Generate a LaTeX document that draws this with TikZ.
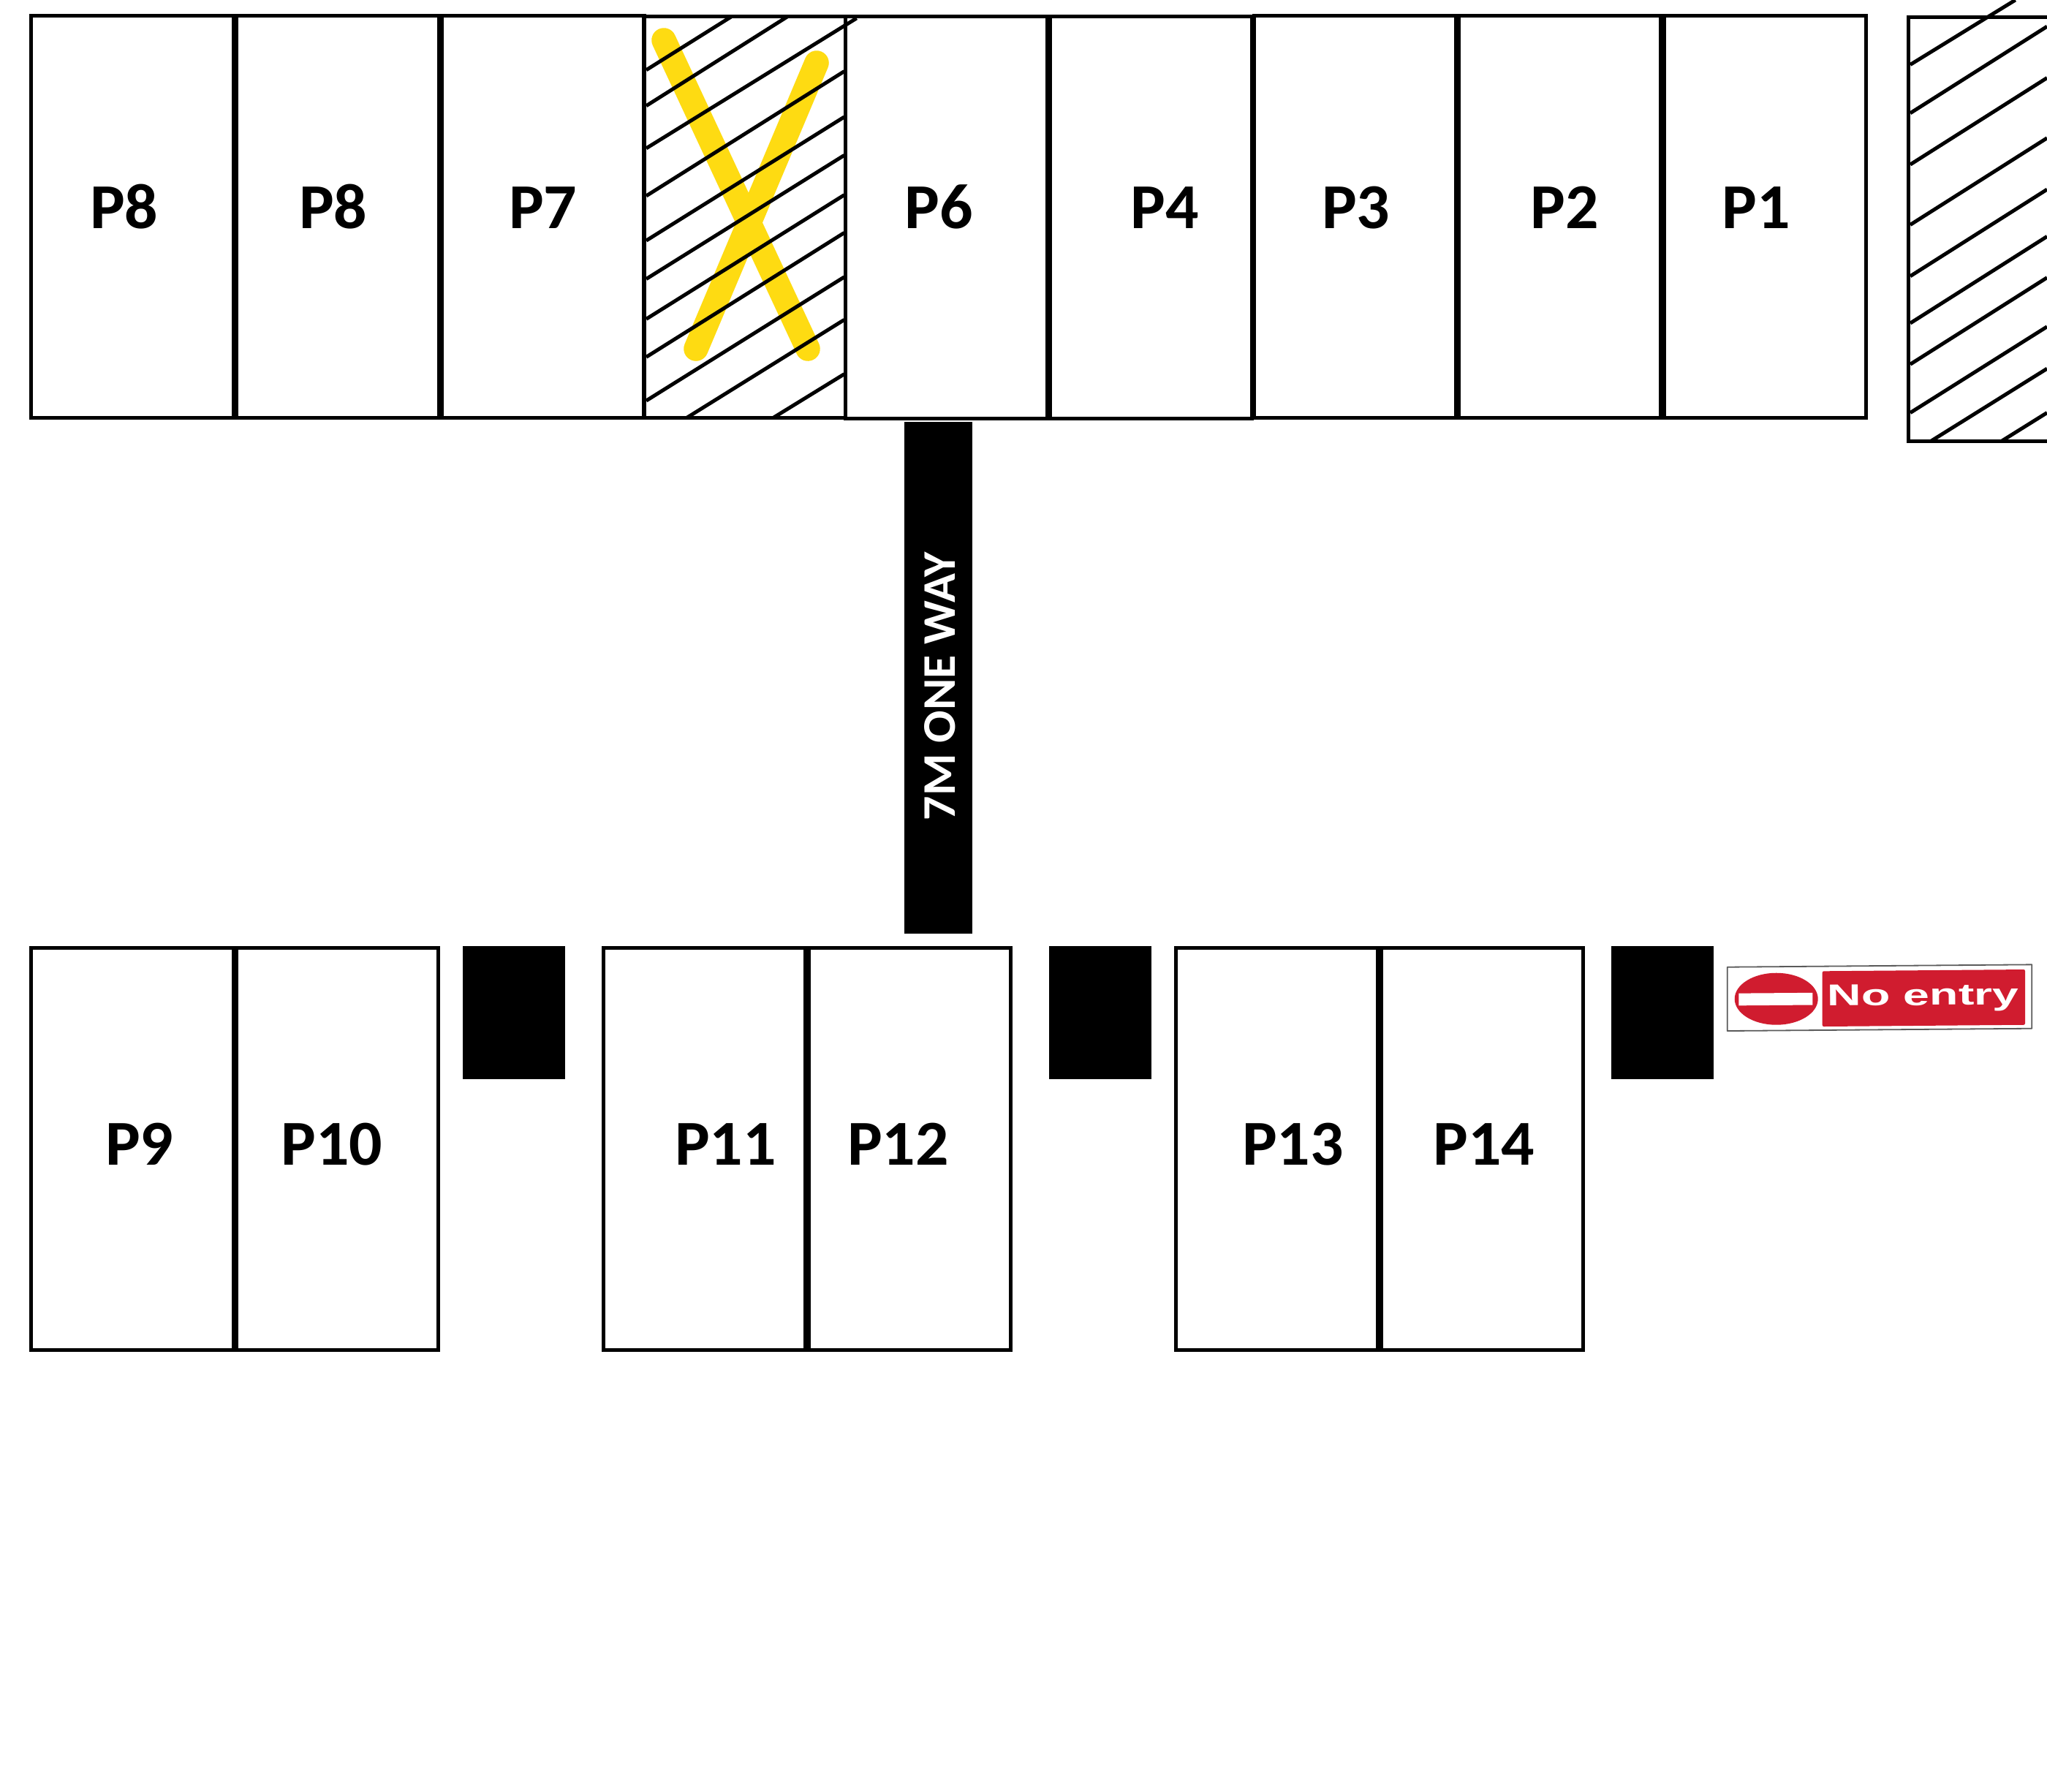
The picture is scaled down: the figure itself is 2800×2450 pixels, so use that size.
\documentclass[tikz,border=0pt]{standalone}
\usepackage{fontspec}
\setmainfont{Carlito}
\newfontfamily\signfont{Liberation Sans}
\definecolor{signred}{HTML}{D01C2F}
\definecolor{markyellow}{HTML}{FEDB12}
\definecolor{signgrey}{HTML}{5A5A5A}
\tikzset{
  bay/.style={draw=black,line width=0.05cm,line join=miter},
  hatchline/.style={draw=black,line width=0.05cm},
  solidblock/.style={fill=black,draw=none},
  crossmark/.style={draw=markyellow,line width=0.335cm,line cap=round},
  baylabel/.style={anchor=base west,inner sep=0pt,xshift=0.015cm,yshift=-0.015cm,xscale=1.025,font=\bfseries\fontsize{24.9pt}{30pt}\selectfont},
  roadlabel/.style={anchor=center,inner sep=0pt,text=white,rotate=90,xscale=1.03,font=\bfseries\fontsize{18.2pt}{22pt}\selectfont},
  signlabel/.style={anchor=center,inner sep=0pt,text=white,rotate=0.45,xscale=1.57,font=\signfont\bfseries\fontsize{11.7pt}{14pt}\selectfont}
}
\begin{document}
\begin{tikzpicture}[x=0.01cm,y=-0.01cm]
\useasboundingbox (0,0) rectangle (2800,2450);
\fill[white] (0,0) rectangle (2800,2450);

% yellow cross (beneath the hatching)
\draw[crossmark] (908,55) -- (1105,477);
\draw[crossmark] (1117,86) -- (952,477);

% top row bays
\draw[bay] (42.5,21.4) rectangle (319.5,571.4);
\draw[bay] (323.5,21.4) rectangle (600,571.4);
\draw[bay] (604.5,21.4) rectangle (881,571.4);
\draw[bay] (880.8,22) rectangle (1156.5,571.8);
\draw[bay] (1156.5,22.2) rectangle (1432,572.5);
\draw[bay] (1436.2,22.2) rectangle (1712.7,572.5);
\draw[bay] (1715.2,21.4) rectangle (1991.6,571.4);
\draw[bay] (1995.6,21.4) rectangle (2271.8,571.4);
\draw[bay] (2276.2,21.4) rectangle (2552.5,571.4);

% hatching of the closed bay
\draw[hatchline] (884,95.7) -- (1000,23);
\draw[hatchline] (884,144.7) -- (1076.7,23);
\draw[hatchline] (884,202.8) -- (1171.7,24.9);
\draw[hatchline] (884,267.9) -- (1154.7,97.6);
\draw[hatchline] (884,329) -- (1154.7,160);
\draw[hatchline] (884,381.5) -- (1154.7,212.4);
\draw[hatchline] (884,436.3) -- (1154.7,266.7);
\draw[hatchline] (884,488.3) -- (1154.7,318.4);
\draw[hatchline] (884,548) -- (1154.7,378.9);
\draw[hatchline] (940,571) -- (1154.7,437.4);
\draw[hatchline] (1058.3,571) -- (1154.7,511.7);

% hatched area at the right edge
\draw[bay] (2800,23.7) -- (2610.8,23.7) -- (2610.8,603) -- (2800,603);
\draw[hatchline] (2613,88.4) -- (2756.7,0);
\draw[hatchline] (2613,154.7) -- (2800,36.2);
\draw[hatchline] (2613,225) -- (2800,106.5);
\draw[hatchline] (2613,307.4) -- (2800,188.8);
\draw[hatchline] (2613,377.7) -- (2800,259.1);
\draw[hatchline] (2613,442) -- (2800,323.4);
\draw[hatchline] (2613,498.2) -- (2800,379.7);
\draw[hatchline] (2613,564.5) -- (2800,446.8);
\draw[hatchline] (2641.7,603) -- (2800,504.2);
\draw[hatchline] (2738.3,603) -- (2800,564.5);

% one-way road bar
\fill[solidblock] (1236.9,577) rectangle (1330,1276.6);
\node[roadlabel] (road) at (1286,938.8) {7M ONE WAY};

% bottom row bays
\draw[bay] (42.4,1296.4) rectangle (319,1846.4);
\draw[bay] (323.5,1296.4) rectangle (599.5,1846.4);
\draw[bay] (825.5,1296.4) rectangle (1101.5,1846.4);
\draw[bay] (1106.5,1296.4) rectangle (1382.6,1846.4);
\draw[bay] (1608.6,1296.4) rectangle (1884.6,1846.4);
\draw[bay] (1889.6,1296.4) rectangle (2165.2,1846.4);

% black blocks
\fill[solidblock] (633.2,1294) rectangle (773,1475.8);
\fill[solidblock] (1435.2,1294) rectangle (1575,1475.8);
\fill[solidblock] (2204,1294) rectangle (2343.8,1475.8);

% labels
\node[baylabel] (p8a) at (121,310.8) {P8};
\node[baylabel] (p8b) at (407,310.8) {P8};
\node[baylabel] (p7) at (694,310.8) {P7};
\node[baylabel] (p6) at (1235.5,310.8) {P6};
\node[baylabel] (p4) at (1544.7,310.8) {P4};
\node[baylabel] (p3) at (1806,310.8) {P3};
\node[baylabel] (p2) at (2091.3,310.8) {P2};
\node[baylabel] (p1) at (2353.3,310.8) {P1};
\node[baylabel] (p9) at (142,1592.2) {P9};
\node[baylabel] (p10) at (382.3,1592.2) {P10};
\node[baylabel] (p11) at (921,1592.2) {P11};
\node[baylabel] (p12) at (1156.8,1592.2) {P12};
\node[baylabel] (p13) at (1697,1592.2) {P13};
\node[baylabel] (p14) at (1958.2,1592.2) {P14};

% no entry sign
\fill[white] (2362.7,1322.7) -- (2779.3,1319.3) -- (2779.3,1406.7) -- (2362.7,1410) -- cycle;
\draw[signgrey,line width=0.018cm,line join=round] (2362.7,1322.7) -- (2779.3,1319.3) -- (2779.3,1406.7) -- (2362.7,1410) -- cycle;
\fill[signred] (2429.7,1366.2) ellipse [x radius=57,y radius=35.5];
\fill[white] (2378.3,1358.6) -- (2479.3,1357.8) -- (2479.3,1374.5) -- (2378.3,1375.3) -- cycle;
\fill[signred,rounded corners=0.02cm] (2492.7,1328.3) -- (2770,1326) -- (2770,1401.7) -- (2492.7,1404) -- cycle;
\node[signlabel] (noentry) at (2630.8,1365) {No entry};
\end{tikzpicture}
\end{document}
